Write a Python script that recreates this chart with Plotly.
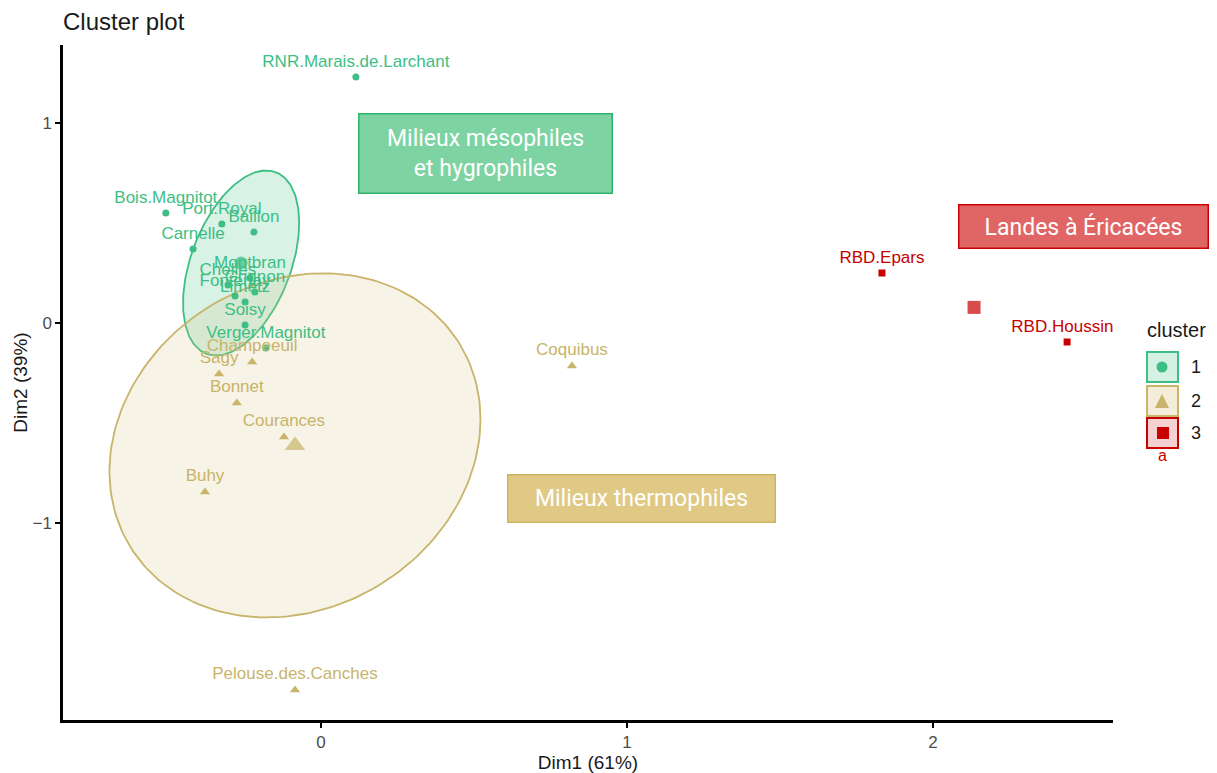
import numpy as np
import plotly.graph_objects as go

# ---------------- data ----------------
c1_names = ["RNR.Marais.de.Larchant", "Bois.Magnitot", "Port.Royal", "Baillon", "Carnelle",
            "Montbran", "Chelles", "Grignon", "Fontenay", "Limetz", "Soisy", "Verger.Magnitot"]
c1_x = [0.114, -0.507, -0.324, -0.219, -0.418, -0.232, -0.304, -0.216, -0.281, -0.248, -0.248, -0.180]
c1_y = [1.230, 0.550, 0.495, 0.455, 0.370, 0.225, 0.190, 0.155, 0.135, 0.105, -0.010, -0.125]

c2_names = ["Champeeuil", "Sagy", "Bonnet", "Courances", "Buhy", "Coquibus", "Pelouse.des.Canches"]
c2_x = [-0.225, -0.333, -0.275, -0.121, -0.379, 0.820, -0.085]
c2_y = [-0.195, -0.255, -0.400, -0.570, -0.845, -0.215, -1.835]

c3_names = ["RBD.Epars", "RBD.Houssine"]
c3_x = [1.833, 2.438]
c3_y = [0.250, -0.095]

centers_x = [-0.261, -0.085, 2.134]
centers_y = [0.300, -0.612, 0.078]

# ellipse shape matrices (data units) for clusters 1 and 2: [sxx, sxy, syy]
ell1 = [0.0360, 0.0380, 0.2140]
ell2 = [0.3675, 0.0790, 0.7400]

x_ticks = [0, 1, 2]
y_ticks = [-1, 0, 1]
y_ticktext = ["\u22121", "0", "1"]

cluster_labels = ["1", "2", "3"]

# ---------------- style ----------------
GREEN = "#3DBE84"
BEIGE = "#C8B46A"
RED = "#C80000"
LABEL_FONT = "Liberation Sans, Arial, sans-serif"

W, H = 1217, 773
ML, MR, MT, MB = 63, 104, 45, 53
XR = [-0.843, 2.588]
YR = [-1.985, 1.390]


def ellipse(cx, cy, m):
    t = np.linspace(0, 2 * np.pi, 200)
    M = np.array([[m[0], m[1]], [m[1], m[2]]])
    L = np.linalg.cholesky(M)
    pts = L @ np.vstack([np.cos(t), np.sin(t)])
    return cx + pts[0], cy + pts[1]


fig = go.Figure()

e1x, e1y = ellipse(centers_x[0], centers_y[0], ell1)
e2x, e2y = ellipse(centers_x[1], centers_y[1], ell2)
fig.add_trace(go.Scatter(x=e1x, y=e1y, mode="lines", fill="toself",
                         line=dict(color=GREEN, width=1.8), fillcolor="rgba(61,190,132,0.20)",
                         hoverinfo="skip", showlegend=False))
fig.add_trace(go.Scatter(x=e2x, y=e2y, mode="lines", fill="toself",
                         line=dict(color=BEIGE, width=1.8), fillcolor="rgba(214,196,130,0.20)",
                         hoverinfo="skip", showlegend=False))

for names, xs, ys, col, sym, sz in [
    (c1_names, c1_x, c1_y, GREEN, "circle", 7),
    (c2_names, c2_x, c2_y, BEIGE, "triangle-up", 9),
    (c3_names, c3_x, c3_y, RED, "square", 7),
]:
    fig.add_trace(go.Scatter(x=xs, y=ys, mode="markers+text", text=names,
                             textposition="top center",
                             textfont=dict(family=LABEL_FONT, size=17, color=col),
                             marker=dict(color=col, symbol=sym, size=sz, line=dict(width=0)),
                             cliponaxis=True, showlegend=False))

fig.add_trace(go.Scatter(x=centers_x, y=centers_y, mode="markers",
                         marker=dict(color=[GREEN, BEIGE, RED],
                                     symbol=["circle", "triangle-up", "square"],
                                     size=[13, 18, 13], line=dict(width=0)),
                         showlegend=False, hoverinfo="skip"))

# ---------------- annotation boxes ----------------
BOX_FONT = "Roboto, sans-serif"
boxes = [
    dict(x=0.536, y=0.850, text="Milieux mésophiles<br>et hygrophiles", w=252, h=78,
         bg="#7DD3A1", bd="#2EB36B"),
    dict(x=2.493, y=0.485, text="Landes à Éricacées", w=248, h=42,
         bg="#E06666", bd="#CC0000"),
    dict(x=1.046, y=-0.875, text="Milieux thermophiles", w=266, h=46,
         bg="#DFC985", bd="#CDB55E"),
]
for b in boxes:
    fig.add_annotation(x=b["x"], y=b["y"], xref="x", yref="y", text=b["text"],
                       showarrow=False, width=b["w"], height=b["h"],
                       bgcolor=b["bg"], bordercolor=b["bd"], borderwidth=1.5, borderpad=0,
                       font=dict(family=BOX_FONT, size=23, color="white"),
                       align="center", valign="middle")

# ---------------- manual legend ----------------
pw = W - ML - MR
ph = H - MT - MB


def px(x):
    return (x - ML) / pw


def py(y):
    return (H - MB - y) / ph


fig.add_annotation(x=px(1145), y=py(330), xref="paper", yref="paper", text="cluster",
                   showarrow=False, xanchor="left", yanchor="middle",
                   font=dict(family=LABEL_FONT, size=20, color="#1a1a1a"))
leg = [(GREEN, "rgba(61,190,132,0.22)", 352, 382),
       (BEIGE, "rgba(214,196,130,0.30)", 386, 416),
       (RED, "rgba(200,0,0,0.18)", 418, 448)]
for i, (col, fillc, y0, y1) in enumerate(leg):
    fig.add_shape(type="rect", xref="paper", yref="paper",
                  x0=px(1147), x1=px(1178), y0=py(y1), y1=py(y0),
                  line=dict(color=col, width=2), fillcolor=fillc)
    fig.add_annotation(x=px(1189), y=py((y0 + y1) / 2), xref="paper", yref="paper",
                       text=cluster_labels[i], showarrow=False, xanchor="left", yanchor="middle",
                       font=dict(family=LABEL_FONT, size=18, color="#1a1a1a"))
# legend keys
fig.add_shape(type="circle", xref="paper", yref="paper",
              x0=px(1156.5), x1=px(1167.5), y0=py(372.5), y1=py(361.5),
              line=dict(width=0), fillcolor=GREEN)
fig.add_shape(type="path", xref="paper", yref="paper",
              path=f"M {px(1155)} {py(408)} L {px(1169)} {py(408)} L {px(1162)} {py(394)} Z",
              line=dict(width=0), fillcolor=BEIGE)
fig.add_shape(type="rect", xref="paper", yref="paper",
              x0=px(1157), x1=px(1169), y0=py(439), y1=py(427),
              line=dict(width=0), fillcolor=RED)
fig.add_annotation(x=px(1162), y=py(455), xref="paper", yref="paper", text="a",
                   showarrow=False, xanchor="center", yanchor="middle",
                   font=dict(family=LABEL_FONT, size=16, color=RED))

# ---------------- layout ----------------
fig.update_layout(
    width=W, height=H,
    margin=dict(l=ML, r=MR, t=MT, b=MB, autoexpand=False),
    paper_bgcolor="white", plot_bgcolor="white",
    title=dict(text="Cluster plot", x=63 / W, xanchor="left", xref="container",
               y=1 - 22 / H, yanchor="middle", yref="container",
               font=dict(family=LABEL_FONT, size=24, color="#1a1a1a")),
    xaxis=dict(range=XR, tickvals=x_ticks, ticktext=[str(v) for v in x_ticks],
               automargin=False,
               showgrid=False, zeroline=False, showline=True, linecolor="black", linewidth=2.5,
               ticks="outside", ticklen=5, tickwidth=1.5, tickcolor="black",
               tickfont=dict(family=LABEL_FONT, size=17, color="#4D4D4D"),
               title=dict(text="Dim1 (61%)", standoff=6,
                          font=dict(family=LABEL_FONT, size=19, color="#1a1a1a"))),
    yaxis=dict(range=YR, tickvals=y_ticks, ticktext=y_ticktext,
               automargin=False,
               showgrid=False, zeroline=False, showline=True, linecolor="black", linewidth=2.5,
               ticks="outside", ticklen=5, tickwidth=1.5, tickcolor="black",
               tickfont=dict(family=LABEL_FONT, size=17, color="#4D4D4D"),
               title=dict(text="Dim2 (39%)", standoff=0,
                          font=dict(family=LABEL_FONT, size=19, color="#1a1a1a"))),
    showlegend=False,
)

fig.write_html("out.html")
